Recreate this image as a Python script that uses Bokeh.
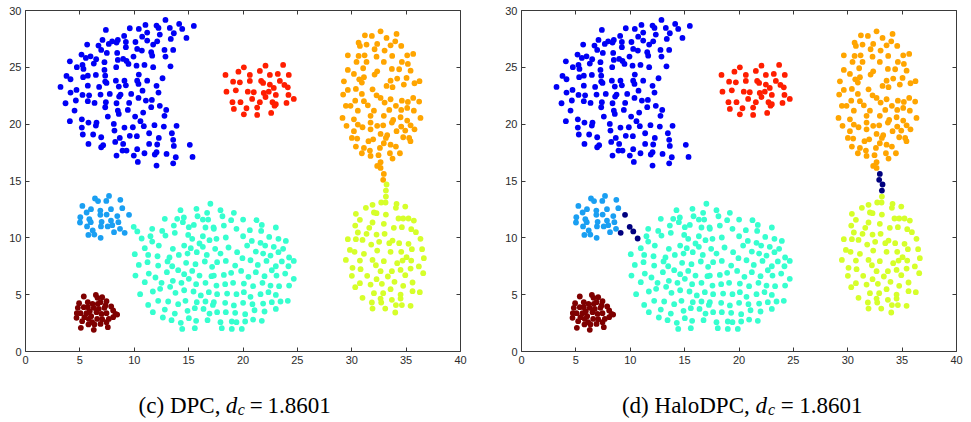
from bokeh.plotting import figure
from bokeh.models import Range1d, LinearAxis, SingleIntervalTicker
from bokeh.layouts import row, column
from bokeh.core.properties import value
from bokeh.embed import file_html
from bokeh.resources import INLINE

# ---------------- data ----------------
X_RANGE = (0, 40)
Y_RANGE = (0, 30)
TICK_STEP = 5

CAPTIONS = [("(c) DPC,", "d", "c", "=", "1.8601"),
            ("(d) HaloDPC,", "d", "c", "=", "1.8601")]

BLUE = [(12.87,29.17),(14.13,28.82),(15.48,28.64),(11.03,28.73),(12.05,28.67),(9.59,28.44),(10.42,28.38),
        (12.23,28.47),(13.27,28.47),(14.41,28.38),(7.39,28.29),(11.19,28.06),(12.35,27.88),(13.64,28.00),
        (9.07,27.76),(10.73,27.70),(14.80,27.59),(7.08,27.41),(7.97,27.29),(8.49,27.41),(9.23,27.23),
        (10.11,27.23),(11.19,27.35),(12.11,27.29),(13.36,27.50),(5.67,27.00),(6.71,26.91),(7.66,27.06),
        (8.37,27.18),(9.23,26.77),(10.27,26.62),(11.74,27.00),(12.78,26.53),(13.58,26.53),(6.96,26.53),
        (7.48,26.27),(8.43,26.27),(10.70,26.47),(11.56,26.33),(5.15,26.12),(5.55,25.83),(5.98,25.97),
        (6.50,25.71),(7.26,25.45),(8.49,25.65),(8.98,25.74),(9.29,25.56),(9.93,25.95),(11.65,26.03),
        (12.87,25.95),(4.08,25.53),(4.72,25.01),(5.24,25.21),(5.33,24.86),(6.28,25.33),(7.26,24.77),
        (8.34,25.01),(9.47,25.30),(10.21,25.15),(10.94,25.21),(11.74,25.01),(13.33,25.09),(10.42,24.36),
        (3.77,24.24),(4.14,23.95),(5.30,24.13),(5.73,24.27),(6.47,24.33),(7.33,24.27),(7.33,23.75),
        (8.31,23.83),(9.10,23.83),(10.27,23.83),(11.19,23.83),(12.60,24.04),(3.22,23.28),(4.14,22.78),
        (4.69,23.01),(5.73,23.39),(6.77,23.28),(7.45,23.63),(8.58,23.31),(9.23,23.42),(10.39,23.54),
        (12.05,23.37),(3.68,21.84),(4.63,22.08),(5.24,22.57),(5.85,22.54),(6.90,22.60),(7.75,22.66),
        (8.74,22.60),(9.72,22.66),(10.76,22.95),(12.23,22.78),(4.51,21.20),(5.73,22.02),(6.35,21.87),
        (7.39,21.93),(8.37,21.84),(8.61,22.43),(9.53,21.87),(10.39,22.31),(11.07,22.08),(11.62,22.13),
        (12.35,21.61),(4.08,20.26),(5.18,20.43),(5.79,20.14),(6.53,20.14),(7.33,21.49),(7.57,20.67),
        (8.49,21.20),(8.58,20.90),(9.41,21.25),(10.08,20.67),(10.82,21.02),(11.56,21.49),(12.94,21.25),
        (12.78,20.73),(5.18,19.70),(5.27,19.09),(6.22,19.09),(6.96,18.85),(6.47,19.88),(8.12,20.02),
        (8.18,19.44),(9.10,19.70),(9.87,19.73),(10.57,20.26),(10.88,19.82),(11.86,19.91),(12.72,19.79),
        (13.89,19.85),(5.79,18.26),(6.96,17.97),(7.14,18.15),(8.25,18.44),(8.67,18.79),(8.98,18.26),
        (9.59,18.97),(10.24,18.94),(11.37,19.20),(12.26,18.79),(13.46,19.20),(13.58,18.62),(8.92,17.68),
        (9.29,17.68),(10.27,17.80),(11.37,18.26),(12.11,18.21),(12.05,17.53),(13.64,18.09),(15.11,18.18),
        (8.37,17.24),(9.96,17.24),(10.94,17.44),(11.89,17.33),(12.97,17.38),(13.82,17.09),(15.36,17.12),
        (10.33,16.68),(13.58,16.56),(12.05,16.36)]

RED = [(18.39,24.33),(19.58,24.62),(20.08,25.00),(20.63,24.33),(21.55,24.68),(22.07,25.15),(22.47,24.33),
       (23.20,24.42),(23.69,25.21),(24.21,24.33),(19.09,23.74),(19.71,23.68),(20.63,23.80),(21.67,23.80),
       (21.85,23.63),(22.47,23.48),(22.83,23.19),(23.39,23.80),(23.81,23.45),(24.12,23.24),(18.48,22.86),
       (19.34,22.98),(20.44,22.86),(20.99,22.81),(21.91,22.75),(22.37,22.86),(23.02,22.57),(24.18,22.57),
       (24.67,22.22),(19.03,21.93),(19.77,21.93),(20.84,22.22),(21.55,21.93),(22.07,22.39),(22.71,21.93),
       (23.02,21.75),(24.00,21.87),(19.16,21.34),(20.32,21.40),(21.30,21.46),(22.90,21.63),(20.08,20.87),
       (21.30,20.81),(22.59,20.99)]

ORANGE = [(32.65,28.17),(31.21,27.82),(31.85,27.76),(34.12,27.94),(33.20,27.59),(30.63,27.17),(30.75,26.88),
          (31.36,27.00),(32.34,27.06),(33.57,26.94),(34.55,26.88),(34.00,27.29),(32.10,26.59),(33.02,26.47),
          (33.72,26.00),(29.64,26.06),(30.63,26.00),(31.18,26.06),(32.28,25.94),(35.10,26.06),(35.65,26.18),
          (30.44,25.48),(31.36,25.48),(32.95,25.48),(34.61,25.48),(35.16,25.30),(29.64,24.77),(31.05,24.92),
          (33.69,24.86),(34.36,24.83),(35.41,24.71),(30.20,24.42),(30.69,23.95),(31.12,24.13),(32.10,24.36),
          (32.34,24.65),(29.28,23.77),(29.64,23.01),(30.38,23.10),(30.93,23.66),(33.57,23.83),(34.18,24.01),
          (35.04,24.07),(31.91,23.07),(33.20,23.36),(33.75,23.25),(34.79,23.48),(35.77,23.60),(29.21,22.60),
          (30.93,22.66),(32.28,22.54),(32.65,22.31),(33.57,22.19),(34.61,22.07),(35.16,21.96),(30.32,22.07),
          (31.12,22.02),(35.65,22.31),(29.46,21.61),(29.89,21.61),(30.56,21.19),(31.48,21.66),(32.04,21.19),
          (33.02,21.90),(33.45,21.25),(34.06,21.61),(34.55,21.25),(35.10,21.43),(35.71,21.19),(29.15,20.55),
          (30.20,20.43),(31.73,20.73),(32.95,20.73),(33.81,20.37),(34.49,20.61),(35.10,20.32),(29.52,19.85),
          (30.56,19.96),(30.99,19.73),(31.73,20.14),(32.34,19.85),(32.89,19.90),(33.69,20.14),(34.55,19.79),
          (35.41,19.90),(35.77,19.55),(30.20,19.38),(31.73,19.55),(32.65,19.14),(33.26,19.03),(34.12,19.38),
          (34.92,19.44),(35.28,18.79),(30.01,18.79),(30.50,18.73),(31.54,18.50),(31.97,18.67),(33.14,18.79),
          (34.73,18.85),(30.38,18.03),(31.12,17.91),(31.67,17.68),(32.59,17.91),(33.57,18.20),(32.95,18.32),
          (34.06,18.03),(30.93,17.44),(31.73,17.21),(32.46,17.27),(33.51,17.44),(34.43,17.44),(32.65,16.65),
          (33.75,16.97),(32.34,16.33),(32.65,16.15),(36.23,23.78),(36.32,20.55),(36.20,21.99),(35.40,18.50)]
ORANGE_HALO = [(32.95,15.62),(32.89,15.10)]

YELLOW = [(33.14,13.63),(32.71,13.11),(33.11,13.11),(31.91,12.90),(31.30,12.64),(34.12,12.99),(34.92,12.75),
          (34.06,12.64),(30.38,12.11),(32.04,12.23),(32.28,12.17),(33.14,12.05),(30.75,11.58),(34.30,11.70),
          (34.73,11.70),(35.22,11.70),(35.71,11.52),(30.32,11.08),(31.91,11.35),(32.95,11.23),(31.61,10.88),
          (33.87,10.88),(34.61,10.94),(35.47,10.76),(30.56,10.47),(31.36,10.35),(32.28,10.29),(33.02,10.35),
          (29.64,9.88),(30.38,9.88),(30.99,9.82),(31.79,9.41),(32.52,9.65),(33.45,9.53),(33.75,9.76),
          (34.36,9.53),(35.22,9.47),(35.53,9.00),(29.83,8.94),(30.26,8.77),(31.12,8.59),(32.34,8.88),
          (33.57,8.77),(34.55,8.77),(35.04,8.30),(29.46,8.06),(30.75,8.00),(31.91,8.06),(32.95,7.95),
          (34.18,7.77),(34.67,8.00),(35.47,8.00),(32.22,7.59),(30.07,7.36),(30.81,7.24),(32.65,7.07),
          (33.69,7.07),(34.49,7.18),(35.41,7.30),(30.01,6.66),(31.42,6.66),(32.28,6.36),(33.32,6.60),
          (34.92,6.71),(30.32,5.66),(30.75,6.01),(31.73,5.89),(32.77,5.95),(33.93,6.13),(34.73,5.78),
          (35.59,6.07),(32.04,5.13),(32.89,5.13),(33.57,5.48),(34.49,5.01),(35.59,5.31),(30.99,4.72),
          (32.65,4.66),(33.69,4.55),(34.49,4.66),(31.85,4.31),(32.71,4.31),(34.06,4.08),(34.61,4.08),
          (35.41,4.02),(31.91,3.78),(33.08,3.78),(34.00,3.43),(36.32,9.91),(36.47,9.00),(36.63,8.21),
          (36.57,6.89),(36.26,5.22),(36.17,7.48),(35.90,10.50)]
YELLOW_HALO = [(33.20,14.69),(33.14,14.16)]

LIGHTBLUE = [(5.23,12.81),(6.39,13.46),(6.67,13.23),(7.68,13.69),(7.43,13.25),(8.72,13.34),(5.62,12.23),
             (6.02,12.52),(6.88,12.40),(7.86,12.52),(8.90,12.61),(5.04,11.82),(5.87,11.64),(6.88,12.02),
             (7.46,12.05),(8.44,11.91),(5.01,11.35),(6.00,11.38),(7.00,11.41),(7.86,11.52),(8.54,11.38),
             (5.66,11.00),(6.18,10.65),(6.94,11.00),(7.56,11.00),(7.98,11.11),(6.33,10.29),(6.91,10.00),
             (5.78,10.26),(8.14,10.50),(8.69,10.79)]
LIGHTBLUE_HALO = [(9.52,12.02),(9.12,10.44)]

CYAN = [(15.72,12.55),(16.70,12.20),(14.25,12.43),(12.81,11.67),(13.95,11.67),(14.56,11.79),(15.82,11.90),
        (16.31,11.61),(16.80,11.61),(11.65,10.79),(12.57,10.61),(13.64,11.08),(14.47,11.38),(15.02,10.94),
        (15.48,11.14),(16.55,10.91),(17.29,10.91),(11.49,10.14),(12.87,10.20),(13.73,10.44),(14.96,10.26),
        (15.33,9.91),(16.31,10.14),(16.92,9.79),(10.97,9.09),(12.26,9.32),(13.55,9.03),(14.59,9.32),
        (15.20,9.09),(16.00,9.50),(16.31,9.21),(11.65,9.67),(10.05,8.56),(11.28,8.50),(12.14,8.38),
        (13.24,8.27),(14.10,8.50),(14.90,8.62),(15.75,8.74),(16.67,8.50),(10.42,7.62),(11.22,7.86),
        (12.20,7.56),(13.06,7.92),(13.49,7.50),(14.77,7.80),(15.63,7.68),(16.49,7.92),(17.16,7.45),
        (10.11,6.68),(11.34,6.86),(11.95,6.51),(13.00,6.98),(14.04,7.15),(14.59,6.80),(15.33,7.09),
        (16.00,6.68),(17.10,6.63),(10.97,6.10),(12.51,6.04),(13.55,6.22),(14.34,6.04),(15.02,6.39),
        (15.69,5.92),(16.55,6.04),(10.54,5.04),(11.71,5.28),(12.38,5.51),(13.30,5.69),(13.79,5.16),
        (14.59,5.39),(15.45,5.28),(16.12,4.93),(16.86,5.22),(11.28,4.10),(12.20,4.46),(13.12,4.40),
        (14.04,4.16),(14.71,4.46),(15.75,4.34),(16.55,4.40),(17.23,4.10),(11.71,3.46),(12.81,3.69),
        (13.73,3.34),(14.90,3.58),(15.57,3.81),(16.37,3.75),(16.92,3.34),(12.63,2.99),(13.43,2.76),
        (14.28,2.52),(15.02,2.93),(15.69,2.70),(16.74,2.76),(14.41,1.99),(15.57,2.05),(17.00,13.00),
        (17.93,12.43),(19.16,12.20),(18.11,11.90),(18.91,11.55),(20.01,11.61),(21.24,11.55),(21.73,11.14),
        (23.02,10.91),(17.32,10.79),(18.24,11.08),(19.40,10.79),(20.63,10.67),(21.67,10.61),(22.41,10.08),
        (23.26,9.91),(23.94,9.73),(17.56,9.91),(18.42,10.03),(20.01,10.14),(20.81,9.73),(21.61,9.56),
        (22.04,9.32),(22.83,9.21),(23.69,9.03),(24.24,8.27),(24.67,7.97),(17.44,9.03),(17.93,8.62),
        (18.67,9.15),(19.46,8.74),(20.38,9.32),(21.18,8.79),(21.85,8.62),(22.53,8.44),(23.26,8.74),
        (17.62,7.86),(18.42,7.97),(19.28,7.56),(19.95,8.21),(20.69,8.03),(21.36,7.62),(22.16,7.97),
        (23.02,7.50),(23.57,7.92),(24.18,7.50),(17.32,6.68),(18.24,6.74),(18.91,6.92),(19.83,7.09),
        (20.50,6.57),(21.18,6.98),(21.98,6.63),(22.65,7.15),(23.08,6.68),(23.88,6.86),(24.67,6.39),
        (17.56,5.80),(18.36,5.92),(19.09,6.04),(20.08,5.98),(20.93,5.75),(21.79,6.04),(22.53,5.80),
        (23.32,5.75),(24.24,5.80),(17.62,5.04),(18.54,5.10),(19.40,5.04),(20.08,5.22),(20.69,4.81),
        (21.61,5.04),(22.34,5.22),(23.02,4.98),(24.12,4.46),(17.32,4.34),(18.36,4.28),(19.16,4.05),
        (20.01,4.28),(20.87,4.16),(21.85,4.22),(22.65,4.34),(23.45,4.40),(17.62,3.46),(18.42,3.46),
        (19.28,3.40),(20.20,3.28),(21.06,3.63),(21.98,3.52),(23.02,3.75),(17.93,2.58),(18.97,2.64),
        (19.40,2.58),(20.20,2.64),(20.93,2.81),(21.73,2.70),(18.05,2.05),(18.97,1.99),(19.89,1.99)]
CYAN_HALO = [(9.95,10.97),(10.28,10.56),(10.68,9.94)]

DARKRED = [(5.36,4.84),(6.47,4.98),(7.05,4.78),(6.62,4.72),(4.93,4.25),(5.73,4.34),(6.16,4.19),(6.90,4.34),
           (7.45,4.43),(7.88,3.96),(4.72,3.37),(5.06,3.37),(5.61,3.37),(6.04,3.11),(6.53,3.46),(6.99,3.31),
           (7.45,3.37),(8.06,3.61),(8.43,3.25),(4.69,2.96),(5.21,2.67),(5.82,2.87),(6.59,2.87),(7.05,2.84),
           (7.66,2.87),(8.27,3.31),(5.79,2.38),(6.34,2.38),(6.90,2.43),(5.09,2.08),(6.28,1.91),(7.57,2.14),
           (5.73,3.90),(6.28,3.84),(5.36,3.90),(7.26,3.84),(6.74,3.75),(4.81,3.84),(5.91,3.55),(8.06,3.02),
           (5.42,3.02),(7.45,2.58),(7.36,4.05),(6.65,4.19),(6.13,2.58)]

# ---------------- styles ----------------
COLORS = {"blue": "#0000F5", "red": "#FF1E00", "orange": "#FFA500", "yellow": "#D6FF2A",
          "lightblue": "#1A9FF2", "cyan": "#36FFCF", "darkred": "#7F0000", "halo": "#00007F"}
AXIS_COLOR = "#3a3a3a"
LABEL_COLOR = "#2b2b2b"

FRAME_W, FRAME_H = 435, 341
LEFT_B = 25
TOP_B = 10
BOTTOM_B = 20
CAP_H = 422 - TOP_B - FRAME_H - BOTTOM_B - 1


def style_axis(ax, labels):
    ax.ticker = SingleIntervalTicker(interval=TICK_STEP, num_minor_ticks=0)
    ax.major_tick_in = 4
    ax.major_tick_out = 0
    ax.minor_tick_line_color = None
    ax.axis_line_color = AXIS_COLOR
    ax.major_tick_line_color = AXIS_COLOR
    if labels:
        ax.major_label_text_font = "Liberation Sans"
        ax.major_label_text_font_size = "11px"
        ax.major_label_text_color = LABEL_COLOR
        ax.major_label_standoff = 4
    else:
        ax.major_label_text_color = None
        ax.major_label_text_font_size = "0px"
        ax.major_label_standoff = 0


def make_panel(halo, right_border):
    p = figure(x_range=Range1d(*X_RANGE), y_range=Range1d(*Y_RANGE),
               frame_width=FRAME_W, frame_height=FRAME_H,
               min_border_left=LEFT_B, min_border_right=right_border,
               min_border_top=TOP_B, min_border_bottom=BOTTOM_B,
               output_backend="svg", toolbar_location=None)
    p.xgrid.visible = False
    p.ygrid.visible = False
    p.outline_line_color = None
    style_axis(p.xaxis[0], True)
    style_axis(p.yaxis[0], True)
    top = LinearAxis()
    right = LinearAxis()
    style_axis(top, False)
    style_axis(right, False)
    p.add_layout(top, "above")
    p.add_layout(right, "right")

    groups = [(BLUE, [], "blue"), (RED, [], "red"), (ORANGE, ORANGE_HALO, "orange"),
              (YELLOW, YELLOW_HALO, "yellow"), (LIGHTBLUE, LIGHTBLUE_HALO, "lightblue"),
              (CYAN, CYAN_HALO, "cyan"), (DARKRED, [], "darkred")]
    for core, border, cname in groups:
        pts = core + ([] if halo else border)
        p.scatter([q[0] for q in pts], [q[1] for q in pts], size=5.8,
                  fill_color=COLORS[cname], line_color=None)
        if halo and border:
            p.scatter([q[0] for q in border], [q[1] for q in border], size=5.8,
                      fill_color=COLORS["halo"], line_color=None)
    return p


def make_caption(caption, width):
    c = figure(x_range=Range1d(0, width), y_range=Range1d(0, CAP_H),
               width=width, height=CAP_H, min_border=0,
               x_axis_type=None, y_axis_type=None,
               output_backend="svg", toolbar_location=None)
    c.grid.visible = False
    c.outline_line_color = None
    fs = 23
    sub_fs = 16
    sp = 0.27 * fs
    head, dsym, sub, eq, num = caption
    widths = {"(": .36, ")": .36, " ": .27, ",": .27, "c": .47, "d": .53, "D": .76, "P": .6,
              "C": .7, "H": .76, "a": .47, "l": .3, "o": .53}
    w_head = sum(widths.get(ch, .53) for ch in head) * fs
    w_d = 0.55 * fs
    w_sub = 0.47 * sub_fs
    w_eq = 0.6 * fs
    w_num = (0.27 + 0.53 * 5) * fs
    total = w_head + sp + w_d + w_sub + sp + w_eq + sp + w_num
    x0 = LEFT_B + FRAME_W / 2 - 4 - total / 2
    x_head_end = x0 + w_head
    x_d = x_head_end + sp
    x_sub = x_d + w_d + 1
    x_eq = x_sub + w_sub + sp
    x_num = x_eq + w_eq + sp
    base = 16
    common = dict(text_font=value("Liberation Serif"), text_color="#000000",
                  text_baseline="alphabetic")
    c.text(x=[x_head_end], y=[base], text=[head], text_font_size=value(f"{fs}px"),
           text_align="right", **common)
    c.text(x=[x_d], y=[base], text=[dsym], text_font_size=value(f"{fs}px"),
           text_font_style="italic", text_align="left", **common)
    c.text(x=[x_sub], y=[base - 4], text=[sub], text_font_size=value(f"{sub_fs}px"),
           text_font_style="italic", text_align="left", **common)
    c.text(x=[x_eq], y=[base], text=[eq], text_font_size=value(f"{fs}px"),
           text_align="left", **common)
    c.text(x=[x_num], y=[base], text=[num], text_font_size=value(f"{fs}px"),
           text_align="left", **common)
    return c


RIGHT_B1 = 36
RIGHT_B2 = 10
p1 = make_panel(False, RIGHT_B1)
p2 = make_panel(True, RIGHT_B2)
c1 = make_caption(CAPTIONS[0], LEFT_B + FRAME_W + RIGHT_B1)
c2 = make_caption(CAPTIONS[1], LEFT_B + FRAME_W + RIGHT_B2)
layout = row(column(p1, c1), column(p2, c2))

open("out.html", "w").write(file_html(layout, INLINE))
